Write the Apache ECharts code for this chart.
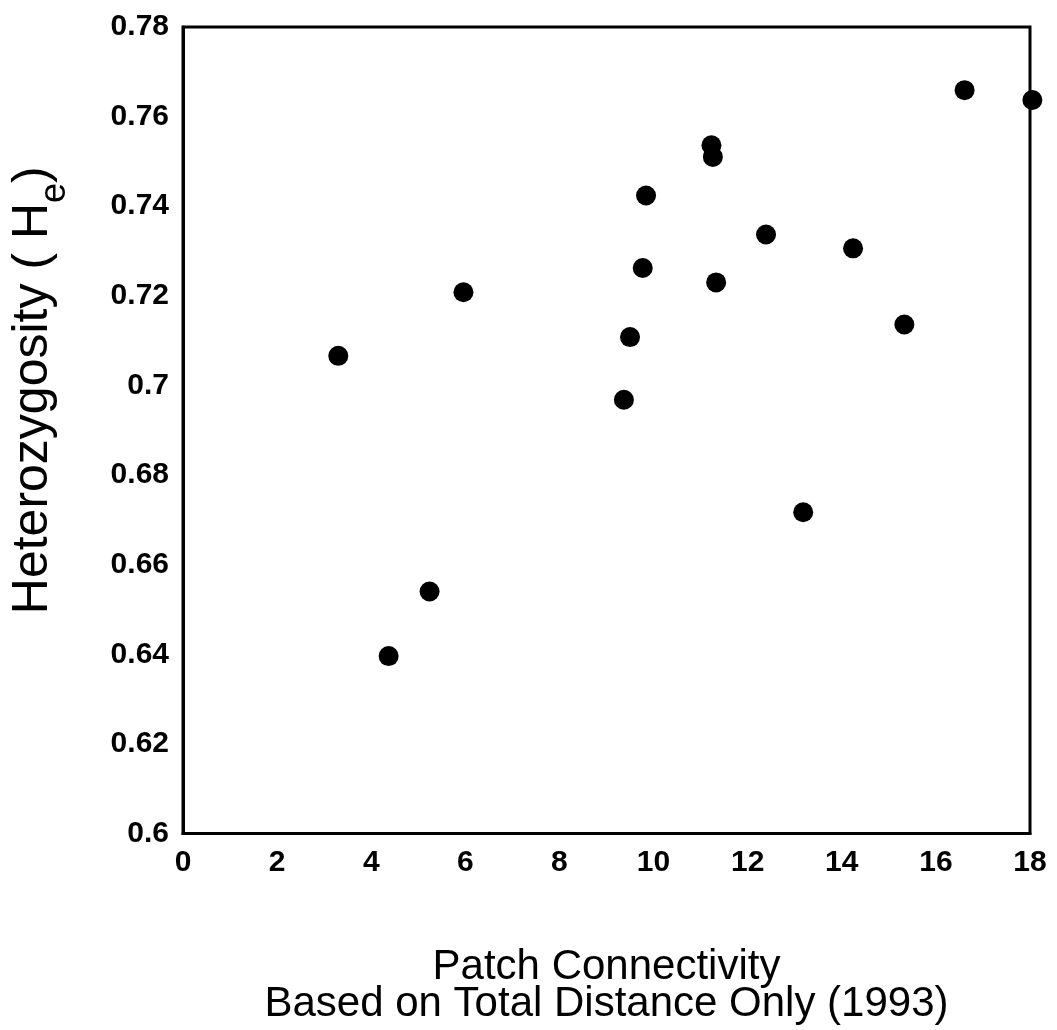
<!DOCTYPE html>
<html>
<head>
<meta charset="utf-8">
<script src="https://cdn.jsdelivr.net/npm/echarts@6/dist/echarts.min.js"></script>
<style>html,body{margin:0;padding:0;background:#fff;}#c{width:1057px;height:1030px;}</style>
</head>
<body>
<div id="c"></div>
<script>
const xValues = [3.30, 5.96, 9.77, 9.50, 9.37, 16.61, 18.05, 11.23, 11.26, 9.84, 12.39, 14.24, 11.33, 15.33, 13.18, 5.24, 4.37];
const yValues = [0.7066, 0.7208, 0.7262, 0.7108, 0.6968, 0.7659, 0.7637, 0.7536, 0.7510, 0.7424, 0.7337, 0.7306, 0.7230, 0.7136, 0.6717, 0.6540, 0.6396];
const xTicks = [0, 2, 4, 6, 8, 10, 12, 14, 16, 18];
const yTicks = ['0.6', '0.62', '0.64', '0.66', '0.68', '0.7', '0.72', '0.74', '0.76', '0.78'];
const xTitle = 'Patch Connectivity\nBased on Total Distance Only (1993)';

const font = '"Liberation Sans", Arial, Helvetica, sans-serif';
const chart = echarts.init(document.getElementById('c'));
chart.setOption({
  backgroundColor: '#fff',
  animation: false,
  grid: { left: 174, right: 27, top: 27, bottom: 171, show: true, borderColor: '#000', borderWidth: 3, backgroundColor: 'transparent' },
  xAxis: {
    type: 'value', min: 0, max: 18, interval: 2,
    axisLine: { show: true, lineStyle: { color: '#000', width: 3 } },
    axisTick: { show: false }, splitLine: { show: false },
    axisLabel: { color: '#000', fontFamily: font, fontWeight: 'bold', fontSize: 30, margin: 14,
      formatter: v => String(xTicks.find(t => Math.abs(t - v) < 1e-9) ?? v) },
    name: xTitle, nameLocation: 'middle', nameGap: 115,
    nameTextStyle: { color: '#000', fontFamily: font, fontSize: 42, lineHeight: 37 }
  },
  yAxis: {
    type: 'value', min: 0.6, max: 0.78, interval: 0.02,
    axisLine: { show: true, lineStyle: { color: '#000', width: 3 } },
    axisTick: { show: false }, splitLine: { show: false },
    axisLabel: { color: '#000', fontFamily: font, fontWeight: 'bold', fontSize: 30, margin: 14,
      formatter: v => { const i = Math.round((v - 0.6) / 0.02); return yTicks[i] ?? String(v); } },
    name: '{a|Heterozygosity ( H}{s|e}{a|)}', nameLocation: 'middle', nameRotate: 90, nameGap: 122,
    nameTextStyle: { padding: [0, 0, 0, 80], rich: {
      a: { color: '#000', fontFamily: font, fontSize: 50, lineHeight: 56, verticalAlign: 'middle' },
      s: { color: '#000', fontFamily: font, fontSize: 36, lineHeight: 56, verticalAlign: 'bottom', padding: [0, 0, -12, 0] }
    } }
  },
  series: [{
    type: 'scatter', clip: false,
    data: xValues.map((x, i) => [x, yValues[i]]),
    symbol: 'circle', symbolSize: 20,
    itemStyle: { color: '#000', opacity: 1 }
  }]
});
</script>
</body>
</html>
